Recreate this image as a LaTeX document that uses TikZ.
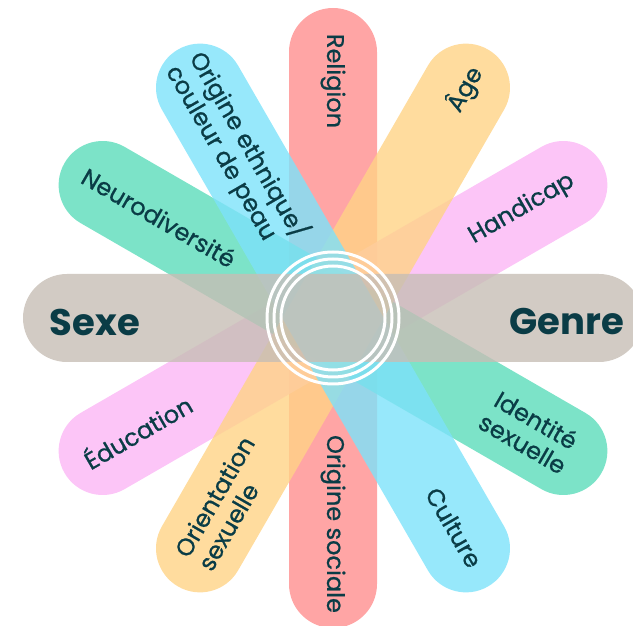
\documentclass[tikz,border=0pt]{standalone}
\usepackage{fontspec}
\newfontfamily\lblfont{Poppins}[FakeBold=0.8]
\IfFontExistsTF{Poppins Bold}{\newfontfamily\bigfont{Poppins Bold}}{\newfontfamily\bigfont{Poppins}[FakeBold=2]}
\definecolor{cred}{HTML}{FF8F8F}
\definecolor{corange}{HTML}{FFD386}
\definecolor{cpink}{HTML}{FBB6F5}
\definecolor{cgreen}{HTML}{5BDCBA}
\definecolor{ccyan}{HTML}{7DE2FA}
\definecolor{cgray}{HTML}{C7BEB5}
\definecolor{txt}{HTML}{0A3C46}
\tikzset{
  bar/.style={fill=#1, fill opacity=0.8, rounded corners=44pt},
  lbl/.style={text=txt, inner sep=0pt, font=\lblfont\fontsize{24}{27}\selectfont},
  biglbl/.style={text=txt, inner sep=0pt, font=\bigfont\fontsize{37}{40}\selectfont},
  ring/.style={draw=white, line width=3pt}
}
\begin{document}
\begin{tikzpicture}[x=1pt,y=1pt]
\useasboundingbox (0,0) rectangle (633,625);
\coordinate (c) at (333,307);
% bars
\foreach \ang/\col in {90/cred,30/cpink,150/cgreen,60/corange,120/ccyan,0/cgray}{
  \begin{scope}[shift={(c)}, rotate=\ang]
    \fill[bar=\col] (-310,-44) rectangle (310,44);
  \end{scope}
}
% rings
\draw[ring] (c) circle[radius=66];
\draw[ring] (c) circle[radius=59];
\draw[ring] (c) circle[radius=52];
% labels
\node[lbl, rotate=-90] (religion) at ([shift={(c)}]90:237) {Religion};
\node[lbl, rotate=-90] (sociale) at ([shift={(c)}]270:206) {Origine sociale};
\node[lbl, rotate=60] (age) at ([shift={(c)}]60:264) {Âge};
\node[lbl, rotate=30] (handicap) at ([shift={(c)}]30:218) {Handicap};
\node[lbl, rotate=-30] (neuro) at ([shift={(c)}]150:201) {Neurodiversité};
\node[lbl, rotate=-60, align=left] (ethnique) at ([shift={(c)}]120:192) {Origine ethnique/\\couleur de peau};
\node[lbl, rotate=30] (education) at ([shift={(c)}]210:226) {Éducation};
\node[lbl, rotate=60, align=left] (orientation) at ([shift={(c)}]240:214) {Orientation\\sexuelle};
\node[lbl, rotate=-30, align=center] (identite) at ([shift={(c)}]-30:227) {Identité\\sexuelle};
\node[lbl, rotate=-60] (culture) at ([shift={(c)}]-60:242) {Culture};
\node[biglbl] (sexe) at (95,303) {Sexe};
\node[biglbl] (genre) at (567,303) {Genre};
\end{tikzpicture}
\end{document}
